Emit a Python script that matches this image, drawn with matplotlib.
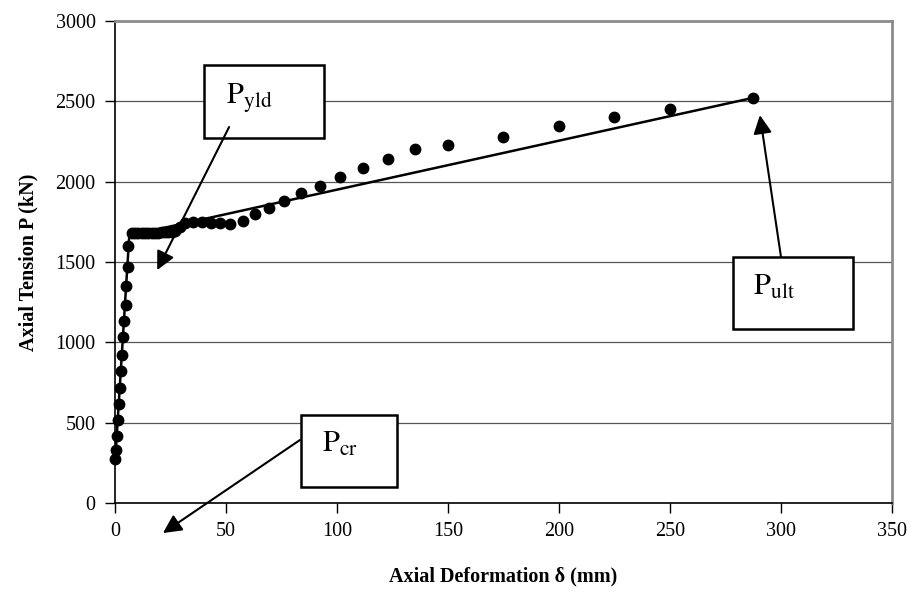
import matplotlib
matplotlib.use('Agg')
import matplotlib.pyplot as plt
from matplotlib.patches import Rectangle

plt.rcParams['font.family'] = ['Liberation Serif', 'DejaVu Serif']
plt.rcParams['mathtext.fontset'] = 'stix'

# test points (axial deformation mm, axial tension kN)
x_test = [0.1, 0.5, 1.0, 1.5, 1.8, 2.4, 2.7, 3.2, 3.7, 4.1, 4.8, 5.0, 5.7, 6.0,
          7.5, 9.0, 10.5, 12.0, 13.5, 15.0, 16.5, 18.0, 19.5, 21.0, 22.5, 24.0,
          25.5, 27.0, 29.3, 31.5, 35.3, 39.0, 43.2, 47.3, 51.8, 57.5, 63.0, 69.5,
          76.1, 83.6, 92.2, 101.4, 111.6, 122.8, 135.1, 150.1, 174.9, 200.0,
          224.8, 250.0, 287.5]
y_test = [276, 329, 419, 519, 619, 717, 821, 924, 1031, 1131, 1233, 1350, 1467, 1602,
          1679, 1680, 1680, 1680, 1680, 1681, 1682, 1682, 1683, 1684, 1685, 1686,
          1688, 1692, 1720, 1744, 1746, 1746, 1744, 1740, 1736, 1757, 1798, 1838,
          1881, 1927, 1975, 2031, 2087, 2141, 2203, 2228, 2280, 2345,
          2400, 2450, 2522]

# idealised (fitted) curve
x_fit = [0.1, 6.5, 14.0, 287.5]
y_fit = [270, 1680, 1688, 2522]

fig = plt.figure(figsize=(9.16, 6.0), dpi=100)
ax = fig.add_axes([115 / 916, 97 / 600, 777 / 916, 482 / 600])

ax.plot(x_fit, y_fit, color='black', lw=1.8, zorder=3)
ax.plot(x_test, y_test, 'o', color='black', ms=7.5, zorder=4, clip_on=False)

ax.set_xlim(0, 350)
ax.set_ylim(0, 3000)
ax.set_xticks(range(0, 351, 50))
ax.set_yticks(range(0, 3001, 500))
ax.yaxis.grid(True, color='#555555', lw=0.9)
ax.set_axisbelow(True)

for s in ['top', 'right']:
    ax.spines[s].set_color('#8c8c8c')
    ax.spines[s].set_linewidth(2)
for s in ['left', 'bottom']:
    ax.spines[s].set_color('black')
    ax.spines[s].set_linewidth(1.2)

ax.tick_params(direction='out', length=7, width=1, labelsize=14.5, pad=7)
ax.set_xlabel('Axial Deformation δ (mm)', fontsize=14.5, fontweight='bold', labelpad=18)
ax.set_ylabel('Axial Tension P (kN)', fontsize=14.5, fontweight='bold', labelpad=12)

# label boxes: (x0, y0, width, height) in data units, text anchor, arrow start, arrow tip
boxes = [
    ('$\\mathrm{P_{yld}}$', (40.1, 2273, 54.1, 454), (50.0, 2487), (51.4, 2340), (19.0, 1450)),
    ('$\\mathrm{P_{cr}}$', (83.6, 101, 43.3, 446), (93.1, 317), (83.3, 392), (21.6, -187)),
    ('$\\mathrm{P_{ult}}$', (278.2, 1081, 54.1, 448), (287.5, 1294), (300.0, 1531), (290.5, 2414)),
]
for label, (bx, by, bw, bh), (tx, ty), start, tip in boxes:
    ax.add_patch(Rectangle((bx, by), bw, bh, facecolor='white', edgecolor='black',
                           lw=1.8, zorder=5, clip_on=False))
    ax.text(tx, ty, label, fontsize=22, ha='left', va='baseline', zorder=6)
    ax.annotate('', xy=tip, xytext=start, annotation_clip=False, zorder=7,
                arrowprops=dict(arrowstyle='-|>', color='black', lw=1.5,
                                mutation_scale=28, shrinkA=0, shrinkB=0))

fig.savefig('out.png', dpi=100)
